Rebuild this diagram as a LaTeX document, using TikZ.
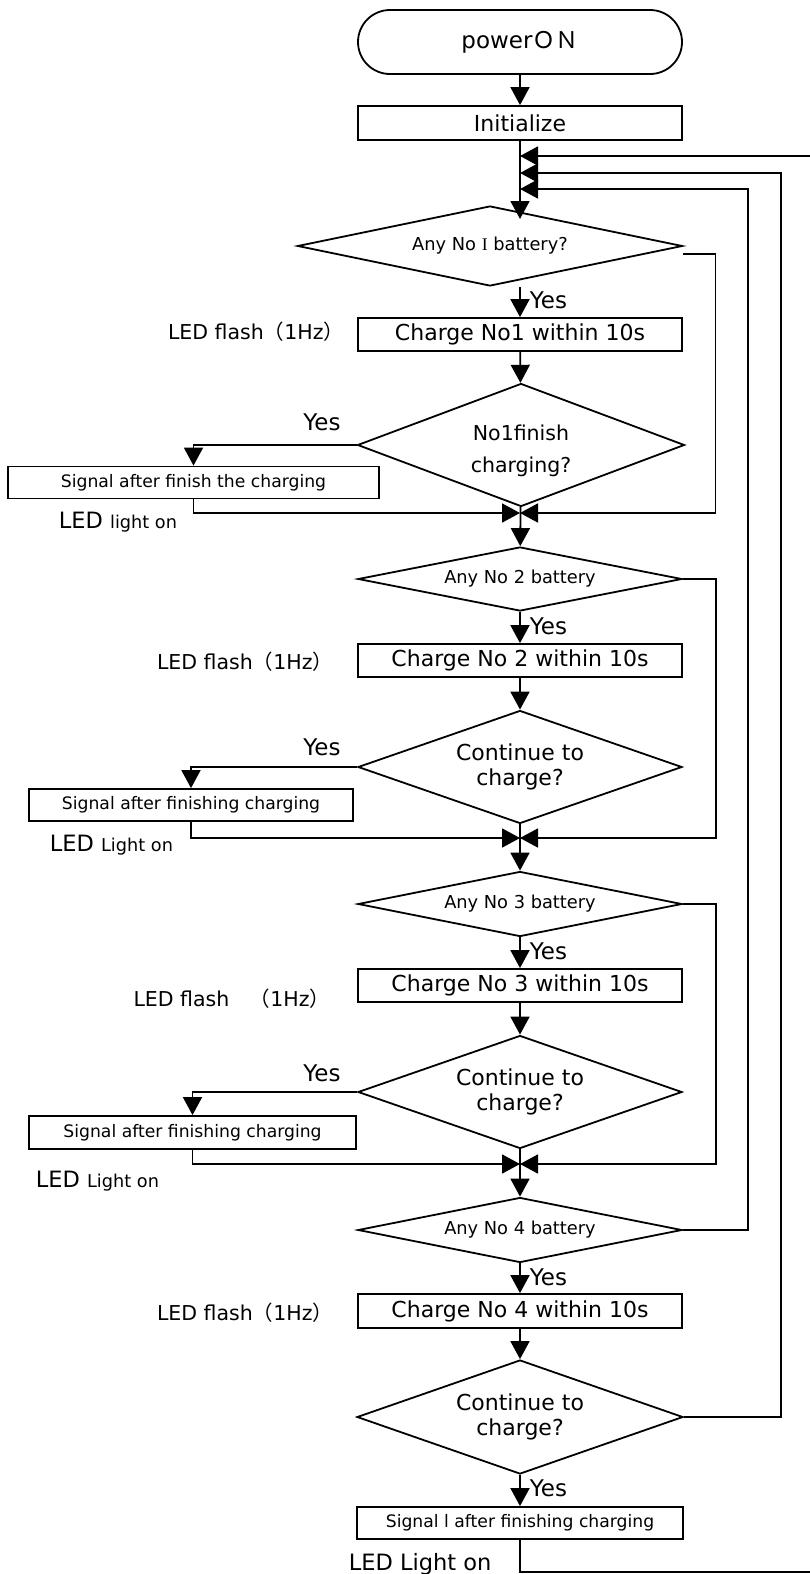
\documentclass[tikz,border=0pt]{standalone}
\usepackage{fontspec}
\setmainfont{DejaVu Sans}
\newfontfamily\cjk{Noto Sans CJK JP}
\newfontfamily\serifI{Liberation Serif}
\usetikzlibrary{arrows.meta, shapes.geometric, shapes.misc}
\tikzset{
  every picture/.style={x=1pt, y=-1pt, line width=1.8pt},
  term/.style={draw, rounded rectangle, inner sep=0pt, minimum width=324pt, minimum height=64pt, font=\fontsize{23}{26}\selectfont},
  proc/.style={draw, rectangle, inner sep=0pt, minimum width=324pt, minimum height=33pt, font=\fontsize{22}{26}\selectfont},
  sig/.style={draw, rectangle, inner sep=0pt, minimum height=32pt, font=\fontsize{17.2}{20}\selectfont},
  test/.style={draw, diamond, aspect=5, inner sep=0pt, minimum width=324pt, align=center},
  small/.style={font=\fontsize{17.8}{20}\selectfont},
  big/.style={font=\fontsize{22}{25}\selectfont},
  arr/.style={-{Triangle[length=18pt, width=19pt]}},
  flash/.style={inner sep=0pt, anchor=east, font=\fontsize{20.5}{24}\selectfont},
  lit/.style={inner sep=0pt, anchor=base west, font=\fontsize{22.5}{26}\selectfont},
  yes/.style={inner sep=0pt, font=\fontsize{23}{26}\selectfont},
}
\newcommand{\lsmall}[1]{{\fontsize{17.7}{20}\selectfont #1}}

\begin{document}
\begin{tikzpicture}
  \useasboundingbox (0,0) rectangle (810,1574);
  % start
  \node[term] (pwr) at (520,42) {power{\cjk ＯＮ}};
  \node[proc, minimum height=34pt] (init) at (520,123) {Initialize};
  \coordinate (r1) at (520,156);
  \coordinate (r2) at (520,173);
  \coordinate (r3) at (520,189);
  \coordinate (d1in) at (520,219);
  \coordinate (m1) at (520,513);
  \coordinate (m2) at (520,838);
  \coordinate (m3) at (520,1164);
  \coordinate (lp) at (812,1572);
  % battery 1
  \node[test, small, minimum width=385pt, minimum height=80pt] (d1) at (490,246) {Any No {\serifI I} battery?};
  \node[proc] (c1) at (520,334.5) {Charge No1 within 10s};
  \node[test, aspect=2.6, minimum width=327pt, minimum height=123pt, text height=59pt, font=\fontsize{20.5}{32}\selectfont] (d2) at (521,445) {No1finish\\charging?};
  \node[sig, minimum width=371pt] (s1) at (193.5,482.5) {Signal after finish the charging};
  \node[flash] (f1) at (345,332) {LED flash{\cjk （}1Hz{\cjk ）}};
  \node[lit] (o1) at (58,528) {LED \lsmall{light on}};
  \node[yes, anchor=west] (y1) at (529,300) {Yes};
  \node[yes] (n1) at (322,422) {Yes};
  % battery 2
  \node[test, small, minimum height=64pt] (d3) at (520,579) {Any No 2 battery};
  \node[proc] (c2) at (520,660.5) {Charge No 2 within 10s};
  \node[test, big, aspect=2.8, minimum height=113pt] (d4) at (520,767) {Continue to\\charge?};
  \node[sig, minimum width=324pt] (s2) at (191,805) {Signal after finishing charging};
  \node[flash] (f2) at (334,662) {LED flash{\cjk （}1Hz{\cjk ）}};
  \node[lit] (o2) at (49,851) {LED \lsmall{Light on}};
  \node[yes, anchor=west] (y2) at (529,626) {Yes};
  \node[yes] (n2) at (322,747) {Yes};
  % battery 3
  \node[test, small, minimum height=65pt] (d5) at (520,904) {Any No 3 battery};
  \node[proc] (c3) at (520,985.5) {Charge No 3 within 10s};
  \node[test, big, aspect=2.8, minimum height=113pt] (d6) at (520,1092) {Continue to\\charge?};
  \node[sig, minimum width=327pt, minimum height=33pt] (s3) at (192.5,1132.5) {Signal after finishing charging};
  \node[flash] (f3) at (331,999) {LED flash{\cjk 　（}1Hz{\cjk ）}};
  \node[lit] (o3) at (35,1187) {LED \lsmall{Light on}};
  \node[yes, anchor=west] (y3) at (529,951) {Yes};
  \node[yes] (n3) at (322,1073) {Yes};
  % battery 4
  \node[test, small, minimum height=65pt] (d7) at (520,1230) {Any No 4 battery};
  \node[proc, minimum height=34pt] (c4) at (520,1311) {Charge No 4 within 10s};
  \node[test, big, aspect=2.8, minimum width=326pt, minimum height=114pt] (d8) at (520,1417) {Continue to\\charge?};
  \node[sig, minimum width=326pt] (fin) at (520,1523) {Signal l after finishing charging};
  \node[flash] (f4) at (334,1313) {LED flash{\cjk （}1Hz{\cjk ）}};
  \node[lit] (o4) at (348,1570) {LED Light on};
  \node[yes, anchor=west] (y4) at (529,1277) {Yes};
  \node[yes, anchor=west] (y5) at (529,1488) {Yes};
  % main line
  \draw[arr] (pwr) -- (init);
  \draw[arr] (init) -- (d1in);
  \draw[arr] (d1.south -| c1.north) -- (c1);
  \draw[arr] (c1) -- (d2);
  \draw[arr] (d2) -- (d3);
  \draw[arr] (d3) -- (c2);
  \draw[arr] (c2) -- (d4);
  \draw[arr] (d4) -- (d5);
  \draw[arr] (d5) -- (c3);
  \draw[arr] (c3) -- (d6);
  \draw[arr] (d6) -- (d7);
  \draw[arr] (d7) -- (c4);
  \draw[arr] (c4) -- (d8);
  \draw[arr] (d8) -- (fin);
  % finished branches
  \draw[arr] (d2.west) -| (s1.north);
  \draw[arr] (s1.south) |- (m1);
  \draw[arr] (d4.west) -| (s2.north);
  \draw[arr] (s2.south) |- (m2);
  \draw[arr] (d6.west) -| (s3.north);
  \draw[arr] (s3.south) |- (m3);
  % no battery
  \draw[arr] ([yshift=-8pt]d1.east) -- ++(32,0) |- (m1);
  \draw[arr] (d3.east) -- ++(33,0) |- (m2);
  \draw[arr] (d5.east) -- ++(33,0) |- (m3);
  % back to the top
  \draw[arr] (d7.east) -- ++(65,0) |- (r3);
  \draw[arr] (d8.east) -- ++(97,0) |- (r2);
  \draw[arr] (fin.south) |- (lp) |- (r1);
\end{tikzpicture}
\end{document}
